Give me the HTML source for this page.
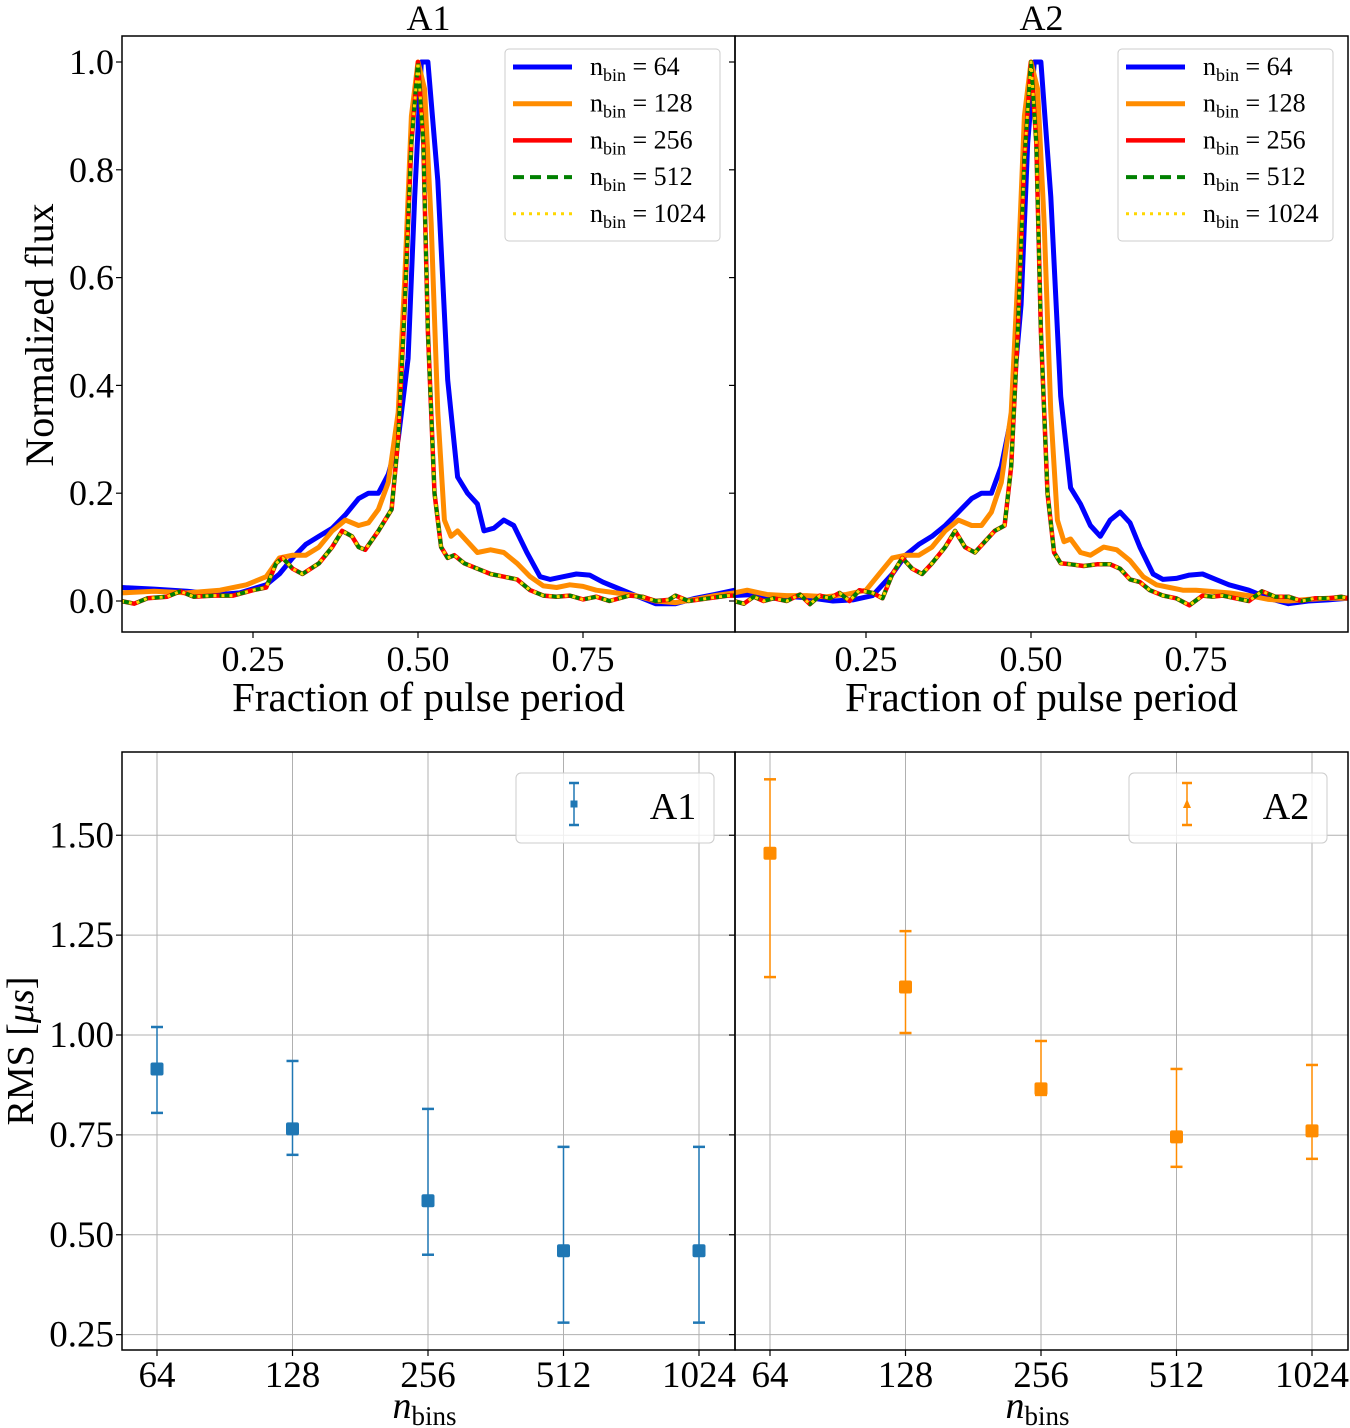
<!DOCTYPE html>
<html><head><meta charset="utf-8"><style>
body{margin:0;background:#fff;}
svg{display:block;font-family:"Liberation Serif","DejaVu Serif",serif;}
</style></head><body>
<svg id="chart" width="1350" height="1428" viewBox="0 0 1350 1428" xmlns="http://www.w3.org/2000/svg"></svg>
<script>
// ---- data ----
const binLabels = ["64","128","256","512","1024"];
const a1Rms = [0.915,0.765,0.585,0.46,0.46];
const a1Lo  = [0.805,0.70,0.45,0.28,0.28];
const a1Hi  = [1.02,0.935,0.815,0.72,0.72];
const a2Rms = [1.455,1.12,0.865,0.745,0.76];
const a2Lo  = [1.145,1.005,0.85,0.67,0.69];
const a2Hi  = [1.64,1.26,0.985,0.915,0.925];
const rmsTicks = [0.25,0.50,0.75,1.00,1.25,1.50];
const fluxTicks = [0.0,0.2,0.4,0.6,0.8,1.0];
const phaseTicks = [0.25,0.50,0.75];

const a1Phase64 = [0.05,0.10,0.15,0.20,0.23,0.27,0.29,0.31,0.33,0.35,0.37,0.39,0.41,0.425,0.44,0.455,0.47,0.485,0.495,0.505,0.515,0.53,0.545,0.56,0.575,0.59,0.60,0.615,0.63,0.645,0.665,0.685,0.70,0.72,0.74,0.76,0.78,0.80,0.83,0.86,0.89,0.92,0.95,0.98];
const a1Flux64  = [0.025,0.022,0.018,0.012,0.015,0.03,0.05,0.08,0.105,0.12,0.135,0.16,0.19,0.20,0.20,0.235,0.30,0.45,0.75,1.0,1.0,0.78,0.41,0.23,0.20,0.18,0.13,0.135,0.15,0.14,0.09,0.045,0.04,0.045,0.05,0.048,0.035,0.025,0.01,-0.005,-0.005,0.005,0.012,0.02];
const a1Phase128 = [0.05,0.10,0.15,0.20,0.24,0.27,0.29,0.31,0.33,0.35,0.37,0.39,0.41,0.425,0.44,0.455,0.47,0.48,0.49,0.50,0.51,0.52,0.53,0.54,0.55,0.56,0.575,0.59,0.61,0.63,0.65,0.67,0.69,0.71,0.73,0.75,0.77,0.80,0.83,0.86,0.89,0.92,0.95,0.98];
const a1Flux128  = [0.015,0.018,0.015,0.02,0.03,0.045,0.08,0.085,0.085,0.10,0.13,0.15,0.14,0.145,0.17,0.22,0.35,0.6,0.9,1.0,0.95,0.7,0.35,0.15,0.12,0.13,0.11,0.09,0.095,0.09,0.07,0.045,0.028,0.025,0.03,0.027,0.02,0.015,0.01,0.0,-0.003,0.003,0.01,0.015];
const a1PhaseFine = [0.05,0.07,0.09,0.12,0.14,0.16,0.19,0.22,0.25,0.27,0.285,0.295,0.31,0.325,0.35,0.37,0.385,0.40,0.41,0.42,0.44,0.46,0.47,0.48,0.49,0.50,0.508,0.515,0.525,0.535,0.545,0.555,0.57,0.59,0.61,0.63,0.65,0.67,0.69,0.71,0.73,0.75,0.77,0.79,0.82,0.84,0.86,0.88,0.89,0.91,0.94,0.97,0.98];
const a1FluxFine  = [0.0,-0.005,0.005,0.008,0.018,0.008,0.01,0.01,0.02,0.025,0.07,0.08,0.06,0.05,0.07,0.10,0.13,0.12,0.10,0.095,0.13,0.17,0.30,0.55,0.85,1.0,0.85,0.5,0.2,0.10,0.08,0.085,0.07,0.06,0.05,0.045,0.04,0.02,0.01,0.008,0.01,0.003,0.008,0.0,0.01,0.008,0.0,0.002,0.01,0.0,0.005,0.01,0.01];

const a2Phase64 = [0.05,0.08,0.11,0.14,0.17,0.20,0.23,0.26,0.29,0.31,0.33,0.35,0.37,0.39,0.41,0.425,0.44,0.455,0.47,0.485,0.495,0.505,0.515,0.53,0.545,0.56,0.575,0.59,0.605,0.62,0.635,0.65,0.665,0.685,0.70,0.72,0.74,0.76,0.78,0.80,0.83,0.86,0.89,0.92,0.95,0.98];
const a2Flux64  = [0.01,0.012,0.005,0.008,0.005,0.0,0.002,0.01,0.05,0.085,0.105,0.12,0.14,0.165,0.19,0.20,0.20,0.25,0.34,0.55,0.85,1.0,1.0,0.75,0.38,0.21,0.18,0.14,0.12,0.15,0.165,0.145,0.10,0.05,0.04,0.042,0.048,0.05,0.04,0.03,0.02,0.005,-0.005,0.0,0.002,0.005];
const a2Phase128 = [0.05,0.07,0.10,0.13,0.16,0.19,0.22,0.25,0.27,0.29,0.31,0.33,0.35,0.37,0.39,0.41,0.425,0.44,0.455,0.47,0.48,0.49,0.50,0.51,0.52,0.53,0.54,0.55,0.56,0.575,0.59,0.61,0.63,0.65,0.67,0.69,0.71,0.73,0.75,0.77,0.80,0.83,0.86,0.89,0.92,0.95,0.98];
const a2Flux128  = [0.015,0.02,0.012,0.01,0.01,0.008,0.012,0.02,0.05,0.08,0.085,0.085,0.1,0.13,0.15,0.14,0.14,0.165,0.22,0.35,0.6,0.9,1.0,0.95,0.7,0.35,0.15,0.11,0.115,0.09,0.085,0.1,0.095,0.075,0.045,0.03,0.025,0.02,0.02,0.018,0.015,0.01,0.003,0.0,0.003,0.005,0.005];
const a2PhaseFine = [0.05,0.065,0.08,0.095,0.11,0.13,0.15,0.165,0.18,0.195,0.21,0.225,0.24,0.26,0.275,0.29,0.305,0.32,0.335,0.35,0.37,0.385,0.40,0.415,0.43,0.445,0.46,0.47,0.48,0.49,0.50,0.508,0.515,0.525,0.535,0.545,0.56,0.58,0.60,0.62,0.635,0.65,0.665,0.68,0.70,0.72,0.74,0.76,0.775,0.79,0.81,0.83,0.85,0.87,0.89,0.91,0.93,0.95,0.97,0.98];
const a2FluxFine  = [0.0,-0.005,0.008,0.0,0.005,0.0,0.012,-0.006,0.01,0.005,0.015,0.0,0.02,0.015,0.005,0.05,0.08,0.06,0.05,0.07,0.10,0.13,0.10,0.09,0.11,0.13,0.14,0.25,0.50,0.82,1.0,0.85,0.5,0.2,0.09,0.07,0.068,0.065,0.068,0.068,0.06,0.04,0.035,0.02,0.01,0.005,-0.008,0.01,0.008,0.01,0.005,0.0,0.018,0.008,0.008,0.0,0.005,0.005,0.008,0.005];

// ---- helpers ----
const NS="http://www.w3.org/2000/svg";
const svg=document.getElementById('chart');
function mk(tag,attrs,parent){const e=document.createElementNS(NS,tag);for(const k in attrs)e.setAttribute(k,attrs[k]);(parent||svg).appendChild(e);return e;}
function txt(s,x,y,size,anchor,parent){const t=mk('text',{x:x,y:y,'font-size':size,'text-anchor':anchor||'middle',fill:'#000'},parent);t.textContent=s;return t;}

const topY0=601, topPxPerUnit=539;
function fy(v){return topY0-v*topPxPerUnit;}
function fxFactory(off){return p=>off+88+p*660;}
function ry(v){return 1035-(v-1)*399.5;}

const colors={c64:'#0000ff',c128:'#ff8c00',c256:'#ff0000',c512:'#008000',c1024:'#ffd700'};

function topPanel(off,title,ph64,f64,ph128,f128,phF,fF,name,showY){
  const g=mk('g',{},svg);
  
  
  const L=122+off,R=735+off,T=36,B=632;
  const fx=fxFactory(off);
  const clipId='clip'+name;
  const cp=mk('clipPath',{id:clipId},g);mk('rect',{x:L,y:T,width:R-L,height:B-T},cp);
  const plot=mk('g',{'clip-path':'url(#'+clipId+')'},g);
  function line(ph,fl,color,w,dash,sname){
    const d=ph.map((p,i)=>(i?'L':'M')+fx(p).toFixed(1)+','+fy(fl[i]).toFixed(1)).join('');
    const a={d:d,fill:'none',stroke:color,'stroke-width':w,'stroke-linejoin':'round'};
    if(dash)a['stroke-dasharray']=dash;
    const p=mk('path',a,plot);
    
    
  }
  line(ph64,f64,colors.c64,5,null,'line-nbin-64');
  line(ph128,f128,colors.c128,5,null,'line-nbin-128');
  line(phF,fF,colors.c256,4.5,null,'line-nbin-256');
  line(phF,fF,colors.c512,4,'11,6','line-nbin-512');
  line(phF,fF,colors.c1024,3,'3,5','line-nbin-1024');
  mk('rect',{x:L,y:T,width:R-L,height:B-T,fill:'none',stroke:'#000','stroke-width':1.5},g);
  fluxTicks.forEach(v=>{mk('line',{x1:L,x2:L-6,y1:fy(v),y2:fy(v),stroke:'#000','stroke-width':1.2},g);
    if(showY){const t=txt(v.toFixed(1),L-8,fy(v)+12,36,'end',g);}});
  phaseTicks.forEach(v=>{mk('line',{x1:fx(v),x2:fx(v),y1:B,y2:B+6,stroke:'#000','stroke-width':1.2},g);
    const t=txt(v.toFixed(2),fx(v),B+39,36,'middle',g);});
  const tt=txt(title,(L+R)/2,30,36,'middle',g);
  const xl=txt('Fraction of pulse period',(L+R)/2,711,41,'middle',g);
  const lg=mk('g',{},g);
  
  
  mk('rect',{x:505+off,y:49,width:215,height:192,rx:4,fill:'#fff','fill-opacity':0.8,stroke:'#ccc','stroke-width':1},lg);
  const ent=[['64',colors.c64,5,null],['128',colors.c128,5,null],['256',colors.c256,4.5,null],['512',colors.c512,4,'11,6'],['1024',colors.c1024,3,'3,5']];
  ent.forEach((e,i)=>{const y=67+i*36.7;
    const a={x1:513+off,x2:572+off,y1:y,y2:y,stroke:e[1],'stroke-width':e[2]};if(e[3])a['stroke-dasharray']=e[3];
    const ln=mk('line',a,lg);
    const t=mk('text',{x:590+off,y:y+8,'font-size':26,fill:'#000'},lg);
    
    t.innerHTML='n<tspan font-size="18" dy="6">bin</tspan><tspan dy="-6"> = '+e[0]+'</tspan>';
  });
}
topPanel(0,'A1',a1Phase64,a1Flux64,a1Phase128,a1Flux128,a1PhaseFine,a1FluxFine,'panel-a1-profiles',true);
topPanel(613,'A2',a2Phase64,a2Flux64,a2Phase128,a2Flux128,a2PhaseFine,a2FluxFine,'panel-a2-profiles',false);
const yl=txt('Normalized flux',0,0,40,'middle');
yl.setAttribute('transform','translate(53,335) rotate(-90)');


function botPanel(off,label,vals,lo,hi,color,name,showY,marker){
  const g=mk('g',{},svg);
  
  
  const L=122+off,R=735+off,T=752,B=1350;
  const cx=i=>157+off+i*135.5;
  rmsTicks.forEach(v=>{mk('line',{x1:L,x2:R,y1:ry(v),y2:ry(v),stroke:'#b0b0b0','stroke-width':1},g);
    mk('line',{x1:L,x2:L-6,y1:ry(v),y2:ry(v),stroke:'#000','stroke-width':1.2},g);
    if(showY){const t=txt(v.toFixed(2),L-8,ry(v)+12,37,'end',g);}});
  binLabels.forEach((b,i)=>{mk('line',{x1:cx(i),x2:cx(i),y1:T,y2:B,stroke:'#b0b0b0','stroke-width':1},g);
    mk('line',{x1:cx(i),x2:cx(i),y1:B,y2:B+6,stroke:'#000','stroke-width':1.2},g);
    const t=txt(b,cx(i),B+37,37,'middle',g);});
  vals.forEach((v,i)=>{const x=cx(i);
    const eb=mk('g',{},g);
    
    
    mk('line',{x1:x,x2:x,y1:ry(lo[i]),y2:ry(hi[i]),stroke:color,'stroke-width':1.5},eb);
    mk('line',{x1:x-6,x2:x+6,y1:ry(lo[i]),y2:ry(lo[i]),stroke:color,'stroke-width':2.5},eb);
    mk('line',{x1:x-6,x2:x+6,y1:ry(hi[i]),y2:ry(hi[i]),stroke:color,'stroke-width':2.5},eb);
    mk('rect',{x:x-6.5,y:ry(v)-6.5,width:13,height:13,rx:2,fill:color},eb);
  });
  mk('rect',{x:L,y:T,width:R-L,height:B-T,fill:'none',stroke:'#000','stroke-width':1.5},g);
  const lg=mk('g',{},g);
  
  
  mk('rect',{x:516+off,y:773,width:198,height:70,rx:5,fill:'#fff','fill-opacity':0.8,stroke:'#ccc','stroke-width':1},lg);
  const mx=574+off;
  mk('line',{x1:mx,x2:mx,y1:783,y2:825,stroke:color,'stroke-width':1.5},lg);
  mk('line',{x1:mx-5,x2:mx+5,y1:783,y2:783,stroke:color,'stroke-width':2.5},lg);
  mk('line',{x1:mx-5,x2:mx+5,y1:825,y2:825,stroke:color,'stroke-width':2.5},lg);
  if(marker==='sq')mk('rect',{x:mx-3.5,y:800.5,width:7,height:7,fill:color},lg);
  else mk('polygon',{points:(mx)+',799 '+(mx-4)+',808 '+(mx+4)+',808',fill:color},lg);
  const lt=txt(label,673+off,819,38,'middle',lg);
  const xl=mk('text',{x:(L+R)/2-4,y:1418,'font-size':38,'text-anchor':'middle','font-style':'italic',fill:'#000'},g);
  
  xl.innerHTML='n<tspan font-size="27" font-style="normal" dy="7">bins</tspan>';
}
botPanel(0,'A1',a1Rms,a1Lo,a1Hi,'#1f77b4','panel-a1-rms',true,'sq');
botPanel(613,'A2',a2Rms,a2Lo,a2Hi,'#ff8c00','panel-a2-rms',false,'tri');
const yl2=mk('text',{x:0,y:0,'font-size':38,'text-anchor':'middle',fill:'#000',transform:'translate(33,1051) rotate(-90)'});

yl2.innerHTML='RMS [<tspan font-style="italic">μs</tspan>]';
</script>
</body></html>
